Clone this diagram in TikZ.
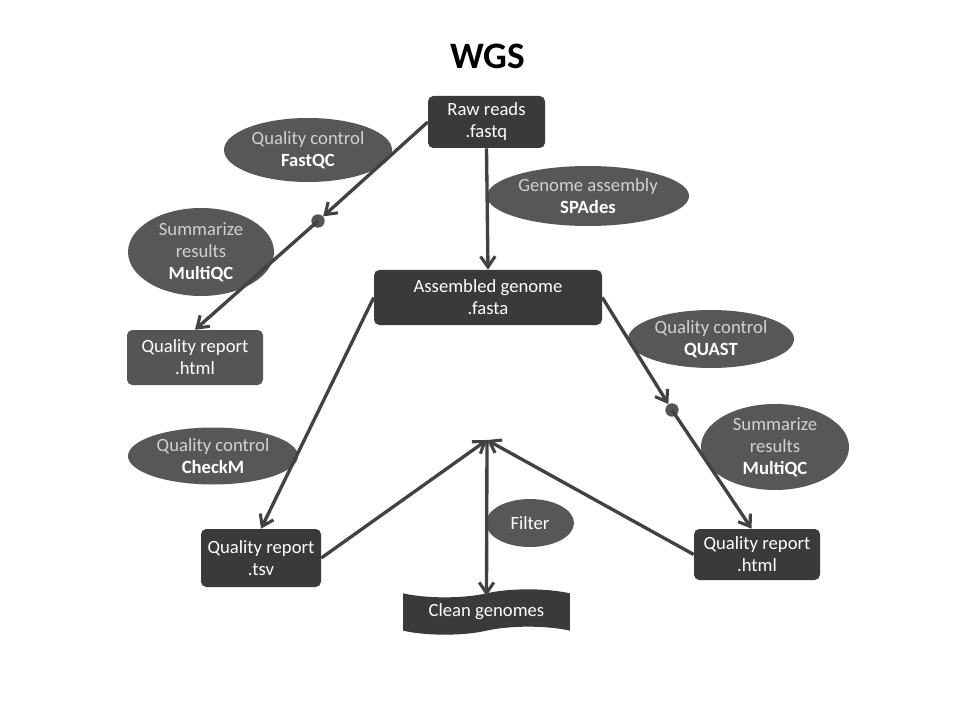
\documentclass[tikz,border=0pt]{standalone}
\usepackage{fontspec}
\setmainfont{Carlito}
\usetikzlibrary{arrows.meta,shapes.geometric,shapes.symbols}
\definecolor{boxc}{HTML}{3A3A3A}
\definecolor{boxl}{HTML}{555555}
\definecolor{ellc}{HTML}{575757}
\definecolor{linec}{HTML}{424242}
\definecolor{lbl}{HTML}{D2D2D2}
\tikzset{
  box/.style={draw=none, fill=boxc, rounded corners=4pt, text=white, align=center, font=\fontsize{14}{16.5}\selectfont, inner sep=0pt},
  oval/.style={ellipse, draw=none, fill=ellc, text=lbl, align=center, font=\fontsize{14}{16.5}\selectfont, inner sep=0pt},
  conn/.style={draw=linec, line width=2.5pt, -{Straight Barb[length=8pt,width=11pt,line width=2.3pt]}},
  dotn/.style={circle, fill=boxl, minimum size=10pt, inner sep=0pt}
}
\begin{document}
\begin{tikzpicture}[x=0.75pt,y=-0.75pt]
\useasboundingbox (0,0) rectangle (960,720);
\fill[white] (0,0) rectangle (960,720);
\node[font=\fontsize{28}{32}\selectfont\bfseries] (title) at (488,56) {WGS};
% ovals
\node[oval, minimum width=126pt, minimum height=48pt] (o1) at (308,150) {Quality control\\{\color{white}\bfseries FastQC}};
\node[oval, minimum width=109.5pt, minimum height=66pt] (o2) at (201,252) {Summarize\\results\\{\color{white}\bfseries MultiQC}};
\node[oval, minimum width=151.5pt, minimum height=45pt] (o3) at (588,196) {Genome assembly\\{\color{white}\bfseries SPAdes}};
\node[oval, minimum width=124.5pt, minimum height=43.5pt] (o4) at (711,339) {Quality control\\{\color{white}\bfseries QUAST}};
\node[oval, minimum width=111pt, minimum height=64.5pt] (o5) at (775,447) {Summarize\\results\\{\color{white}\bfseries MultiQC}};
\node[oval, minimum width=127.5pt, minimum height=42.75pt] (o6) at (213,456) {Quality control\\{\color{white}\bfseries CheckM}};
\node[oval, minimum width=66pt, minimum height=36pt, text=white] (o7) at (530,523) {Filter};
% boxes
\node[box, minimum width=87.75pt, minimum height=39pt] (raw) at (486.5,122) {Raw reads\\.fastq};
\node[box, minimum width=171pt, minimum height=41.25pt] (asm) at (488,297.5) {Assembled genome\\.fasta};
\node[box, fill=boxl, minimum width=102pt, minimum height=41.25pt] (qrl) at (195,357.5) {Quality report\\.html};
\node[box, minimum width=90pt, minimum height=43.5pt] (tsv) at (261,558) {Quality report\\.tsv};
\node[box, minimum width=94.5pt, minimum height=38.25pt] (qrr) at (757,554.5) {Quality report\\.html};
\node[tape, fill=boxc, draw=none, text=white, font=\fontsize{14}{16.5}\selectfont, minimum width=125pt, minimum height=34pt, tape bend height=6pt, inner sep=0pt] (clean) at (486.5,612) {Clean genomes};
% dots and junction
\node[dotn] (d1) at (318,221) {};
\node[dotn] (d2) at (672,410) {};
\coordinate (j) at (487,440);
% connectors
\draw[conn] (raw.west) -- (d1);
\draw[conn] (d1.center) -- (qrl.north);
\draw[conn] (raw.south) -- (asm.north);
\draw[conn] (asm.west) -- (tsv.north);
\draw[conn] (asm.east) -- (d2);
\draw[conn] (d2.center) -- ([xshift=-4pt]qrr.north);
\draw[conn] (tsv.east) -- (j);
\draw[conn] (qrr.west) -- (j);
\draw[conn] (j) -- ([yshift=-2pt]clean.north);
\end{tikzpicture}
\end{document}
